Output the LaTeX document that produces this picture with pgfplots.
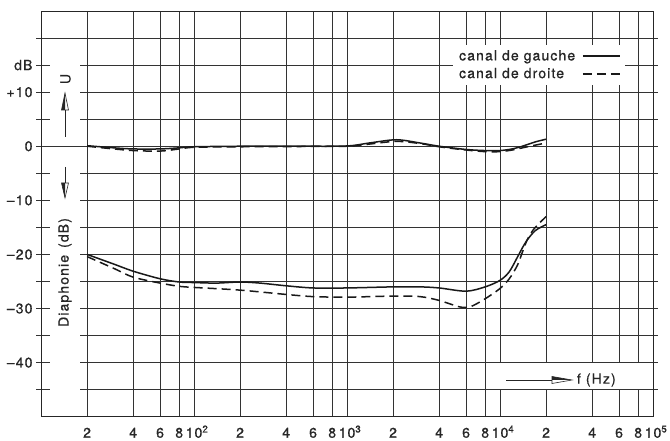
\documentclass[border=0pt]{standalone}
\usepackage{pgfplots}
\pgfplotsset{compat=1.18}
\usepackage{fontspec}
\setmainfont{TeX Gyre Heros}[LetterSpace=8, FakeBold=0.8]
\newcommand\lbl{\fontsize{14}{16}\selectfont}
\newcommand\dec[1]{10\rlap{\textsuperscript{#1}}}

\begin{document}
\begin{tikzpicture}
\path[use as bounding box] (-41pt,-24.3pt) rectangle (629pt,416.7pt);
\begin{axis}[
  at={(0pt,0pt)}, anchor=south west,
  scale only axis, width=612pt, height=405.7pt,
  xmode=log, xmin=10, xmax=100000, ymin=-50, ymax=25,
  xtick={20,40,60,80,100,200,400,600,800,1000,2000,4000,6000,8000,10000,20000,40000,60000,80000,100000},
  xticklabels={2,4,6,8,\dec{2},2,4,6,8,\dec{3},2,4,6,8,\dec{4},2,4,6,8,\dec{5}},
  ytick={-45,-40,...,20},
  yticklabels={,–40,,–30,,–20,,–10,,0,,+10,dB,},
  grid=major, major grid style={black!80, line width=0.5pt},
  axis line style={black!85, line width=0.6pt},
  tick align=outside, major tick length=5pt,
  xtick style={draw=none},
  ytick style={black!80, line width=0.5pt},
  tick label style={font=\lbl, text=black!85},
  xticklabel style={anchor=base, yshift=-16pt},
  legend style={at={(0.673,0.9162)}, anchor=north west, draw=none, fill=white,
    font=\fontsize{14}{16}\selectfont, text=black!85, row sep=2pt, column sep=5pt,
    inner xsep=4pt, inner ysep=3pt},
  legend cell align=left,
  legend plot pos=right,
  legend image code/.code={\draw[#1] (0pt,0pt) -- (37pt,0pt);},
]
% reponse en frequence, canal de gauche
\addplot[black!90, line width=1.5pt, smooth] coordinates {
  (20,0.1) (30,-0.3) (40,-0.5) (60,-0.5) (80,-0.3) (100,-0.1) (200,0) (500,0)
  (1000,0.05) (1400,0.6) (2100,1.2) (3000,0.6) (4000,0) (6000,-0.6) (8000,-0.8)
  (10000,-0.8) (12000,-0.5) (14000,0) (17000,0.8) (20000,1.3)
};
\addlegendentry{canal de gauche}
% canal de droite
\addplot[black!90, line width=1.5pt, smooth, dash pattern=on 9pt off 5pt] coordinates {
  (20,0) (30,-0.5) (40,-0.8) (60,-0.9) (80,-0.5) (100,-0.2) (200,-0.1) (500,-0.05)
  (1000,0) (1400,0.4) (2100,0.9) (3000,0.5) (4000,-0.1) (6000,-0.7) (8000,-1.0)
  (10000,-1.0) (12000,-0.7) (14000,-0.3) (17000,0.2) (20000,0.6)
};
\addlegendentry{canal de droite}
% diaphonie
\addplot[forget plot, black!90, line width=1.5pt, smooth] coordinates {
  (20,-20.0) (30,-21.8) (40,-23.1) (60,-24.5) (80,-25.1) (100,-25.2) (140,-25.3)
  (200,-25.1) (270,-25.3) (400,-25.8) (600,-26.2) (1000,-26.2) (2000,-26.0)
  (3000,-26.0) (4000,-26.2) (6000,-26.8) (8000,-26.0) (10000,-24.8) (11500,-23.2)
  (13000,-20.5) (14000,-18.8) (15000,-17.4) (17000,-15.6) (20000,-14.5)
};
\addplot[forget plot, black!90, line width=1.5pt, smooth, dash pattern=on 9pt off 5pt] coordinates {
  (20,-20.4) (30,-22.6) (40,-24.2) (60,-25.3) (80,-25.9) (100,-26.1) (200,-26.6)
  (400,-27.4) (600,-27.8) (1000,-27.9) (2000,-27.7) (3000,-27.8) (4000,-28.5)
  (5000,-29.4) (5700,-29.8) (6500,-29.6) (8000,-28.2) (10000,-26.3) (11500,-24.5)
  (13000,-22.0) (14000,-19.6) (15000,-17.4) (16000,-16.0) (17000,-15.0) (20000,-13.0)
};
\end{axis}
% bande blanche des titres de l'axe y
\fill[white] (9pt,13pt) rectangle (39pt,369pt);
\draw[black!80, line width=0.5pt] (9pt,270.47pt) -- (39pt,270.47pt);
\begin{scope}[black!85, line width=0.6pt]
  \node[rotate=90, font=\lbl, inner sep=0pt] at (24.5pt,337.7pt) {U};
  \draw (24pt,279.7pt) -- (24pt,306.7pt);
  \draw (20.5pt,306.7pt) -- (24pt,323.7pt) -- (27.5pt,306.7pt) -- cycle;
  \fill (20.5pt,306.7pt) -- (24pt,323.7pt) -- (24pt,306.7pt) -- cycle;
  \draw (24pt,249.7pt) -- (24pt,233.7pt);
  \draw (20.5pt,233.7pt) -- (24pt,218.7pt) -- (27.5pt,233.7pt) -- cycle;
  \fill (20.5pt,233.7pt) -- (24pt,218.7pt) -- (24pt,233.7pt) -- cycle;
  \node[rotate=90, font=\lbl, inner sep=0pt] at (24pt,144.2pt) {Diaphonie\hspace{0.5em}(dB)};
\end{scope}
% f (Hz)
\fill[white] (454pt,27.6pt) rectangle (611.5pt,53.6pt);
\begin{scope}[black!85, line width=0.6pt]
  \draw (465pt,36.7pt) -- (511pt,36.7pt);
  \draw (511pt,33.2pt) -- (531pt,36.7pt) -- (511pt,40.2pt) -- cycle;
  \fill (511pt,36.7pt) -- (531pt,36.7pt) -- (511pt,40.2pt) -- cycle;
  \node[anchor=west, font=\lbl, inner sep=0pt] at (535.7pt,36.7pt) {f (Hz)};
\end{scope}
\end{tikzpicture}
\end{document}
